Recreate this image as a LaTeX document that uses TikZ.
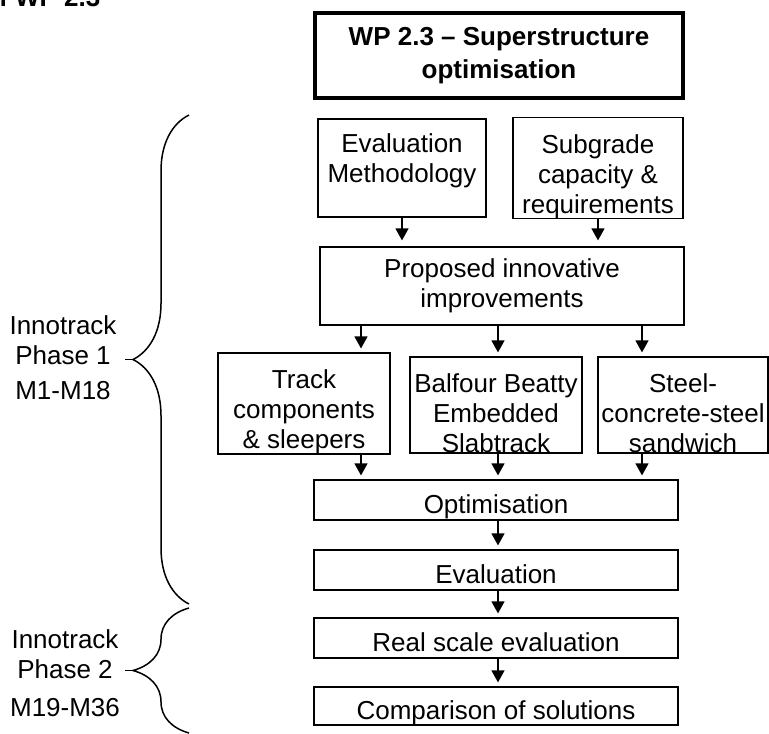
\documentclass[tikz,border=0pt]{standalone}
\usepackage{fontspec}
\setmainfont{Liberation Sans}
\usetikzlibrary{arrows.meta, decorations.pathreplacing}

\newcommand{\toppad}[1]{\rule{0pt}{#1}}
\newcommand{\botpad}[1]{\rule[-#1]{0pt}{#1}}

\tikzset{
    box/.style={draw, line width=1.2pt, align=center, inner sep=0pt, font=\fontsize{26}{30}\selectfont},
    wpbox/.style={box, line width=3.5pt, font=\fontsize{26}{33}\selectfont\bfseries},
    onebox/.style={box, text height=26pt, text depth=0pt},
    flow/.style={-{Triangle[width=13pt,length=12pt]}, line width=1.2pt, shorten >=4pt},
    phaselbl/.style={align=center, font=\fontsize{26}{30}\selectfont},
    phasebrace/.style={decorate, decoration={brace, amplitude=56pt, aspect=0.5}, line width=1.5pt},
}

\begin{document}
\begin{tikzpicture}[x=10pt, y=-10pt]

    \useasboundingbox (0,0) rectangle (76.9,73.4);

    % heading, cut at the top
    \node[anchor=base west, font=\fontsize{26}{30}\selectfont\bfseries, inner sep=0pt] (head) at (-0.1,0.6) {f WP 2.3};

    % work package box
    \node[wpbox, minimum width=368pt, minimum height=85pt] (wp) at (49.9,5.55) {WP 2.3 – Superstructure\\optimisation};

    % inputs
    \node[box, minimum width=168pt, minimum height=98pt] (evm) at (40.2,16.8) {Evaluation\\Methodology\botpad{19pt}};
    \node[box, minimum width=170pt, minimum height=98pt] (sub) at (59.8,16.8) {\toppad{35.5pt}Subgrade\\capacity \&\\requirements};

    % proposals
    \node[box, minimum width=364pt, minimum height=78pt] (prop) at (50.2,28.6) {Proposed innovative\\improvements};

    % three solutions
    \node[box, minimum width=172pt, minimum height=98pt] (track) at (30.4,40.35) {\toppad{35.5pt}Track\\components\\\& sleepers};
    \node[box, minimum width=172pt, minimum height=96pt] (balf) at (49.6,40.5) {\toppad{35.5pt}Balfour Beatty\\Embedded\\Slabtrack};
    \node[box, minimum width=170pt, minimum height=96pt] (steel) at (68.3,40.5) {\toppad{35.5pt}Steel-\\concrete-steel\\sandwich};

    % chain
    \node[onebox, minimum width=364pt, minimum height=40pt] (opt) at (49.6,50.0) {Optimisation};
    \node[onebox, minimum width=364pt, minimum height=40pt] (eval) at (49.6,57.0) {Evaluation};
    \node[onebox, minimum width=364pt, minimum height=40pt] (real) at (49.6,63.8) {Real scale evaluation};
    \node[onebox, minimum width=364pt, minimum height=38pt] (comp) at (49.6,70.6) {Comparison of solutions};

    % arrow columns
    \coordinate (colA) at (36.1,0);
    \coordinate (colB) at (49.8,0);
    \coordinate (colC) at (64.2,0);

    % arrows
    \draw[flow, shorten >=6pt] (evm.south) -- (evm.south |- prop.north);
    \draw[flow, shorten >=6pt] (sub.south) -- (sub.south |- prop.north);

    \draw[flow] (prop.south -| colA) -- (track.north -| colA);
    \draw[flow] (prop.south -| colB) -- (balf.north -| colB);
    \draw[flow] (prop.south -| colC) -- (steel.north -| colC);

    \draw[flow] (track.south -| colA) -- (opt.north -| colA);
    \draw[flow] (balf.south -| colB) -- (opt.north -| colB);
    \draw[flow] (steel.south -| colC) -- (opt.north -| colC);

    \draw[flow] (opt.south -| colB) -- (eval.north -| colB);
    \draw[flow] (eval.south -| colB) -- (real.north -| colB);
    \draw[flow] (real.south -| colB) -- (comp.north -| colB);

    % phase 1
    \node[phaselbl] (ph1) at (6.3,35.8) {Innotrack\\Phase 1\\[5pt]M1-M18};
    \coordinate (b1bot) at (18.9,60.4);
    \coordinate (b1top) at (18.9,11.5);
    \coordinate (b1tip) at (13.3,35.95);
    \draw[phasebrace] (b1bot) -- (b1top);
    \draw[line width=1.5pt] (b1tip) -- ++(-0.8,0);

    % phase 2
    \node[phaselbl] (ph2) at (6.5,67.3) {Innotrack\\Phase 2\\[8pt]M19-M36};
    \coordinate (b2bot) at (18.9,73.3);
    \coordinate (b2top) at (18.9,60.8);
    \coordinate (b2tip) at (13.3,67.05);
    \draw[phasebrace] (b2bot) -- (b2top);
    \draw[line width=1.5pt] (b2tip) -- ++(-0.8,0);

\end{tikzpicture}
\end{document}
